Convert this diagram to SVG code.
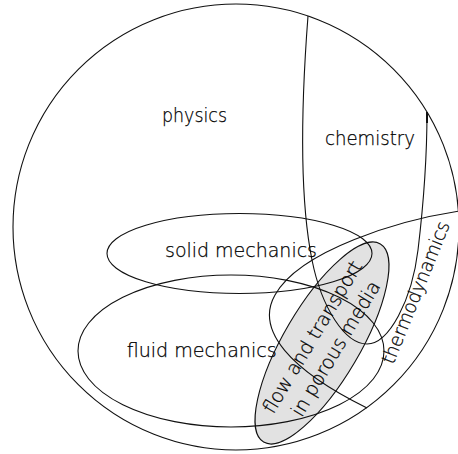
<svg xmlns="http://www.w3.org/2000/svg" width="458" height="454" viewBox="0 0 458 454">
<style>
.ln{fill:none;stroke:#111;stroke-width:1.1}
.lbl{font-family:"DejaVu Sans","Liberation Sans",sans-serif;font-size:19.5px;font-weight:200;fill:#000;stroke:#000;stroke-width:0.25;text-anchor:middle}
</style>
<rect width="458" height="454" fill="#fff"/>
<g id="porous-fill">
<ellipse cx="322" cy="343" rx="115" ry="38" transform="rotate(-59.5 322 343)" fill="#e2e2e2" stroke="none"/>
</g>
<g id="connectors">
</g>
<g id="physics">
<circle class="ln" cx="236" cy="227" r="223"/>
<text class="lbl" x="194.5" y="121.7" textLength="65" lengthAdjust="spacingAndGlyphs">physics</text>
</g>
<g id="chemistry">
<path class="ln" d="M308,16 C300,120 300,200 312,260 C321.6,308 345,344 367,344 C389,344 412,300 418,250 C424,200 427,150 427,112"/>
<line x1="427" y1="112" x2="427" y2="123" stroke="#111" stroke-width="2"/>
<text class="lbl" x="370" y="145" textLength="90" lengthAdjust="spacingAndGlyphs">chemistry</text>
</g>
<g id="thermodynamics">
<path class="ln" d="M460,211 C400,220 300,250 275,295 C255,330 290,370 367,408"/>
<text class="lbl" style="font-size:19px" transform="translate(417,293) rotate(-68)" x="0" y="5" textLength="152" lengthAdjust="spacingAndGlyphs">thermodynamics</text>
</g>
<g id="solid-mechanics">
<ellipse class="ln" cx="239.5" cy="253.5" rx="132.5" ry="40"/>
<text class="lbl" x="241" y="256.7" textLength="152" lengthAdjust="spacingAndGlyphs">solid mechanics</text>
</g>
<g id="fluid-mechanics">
<ellipse class="ln" cx="231" cy="351" rx="153" ry="76"/>
<text class="lbl" x="201.7" y="356.7" textLength="150" lengthAdjust="spacingAndGlyphs">fluid mechanics</text>
</g>
<g id="porous-media">
<ellipse class="ln" cx="322" cy="343" rx="115" ry="38" transform="rotate(-59.5 322 343)"/>
<g transform="translate(324,344) rotate(-59)">
<text class="lbl" x="0" y="-7" textLength="174" lengthAdjust="spacingAndGlyphs">flow and transport</text>
<text class="lbl" x="2" y="19" textLength="154" lengthAdjust="spacingAndGlyphs">in porous media</text>
</g>
</g>
</svg>
